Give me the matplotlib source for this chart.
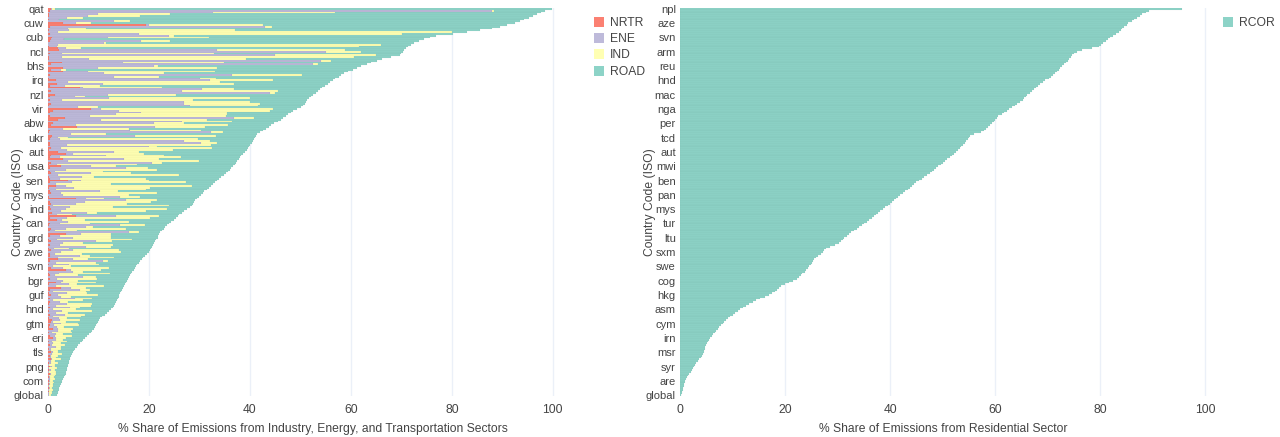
#!/usr/bin/env python3
"""plot.py --- sector shares of emissions per country (two horizontal bar panels)."""
import numpy as np
import matplotlib

matplotlib.use("Agg")
import matplotlib.pyplot as plt
from matplotlib.lines import Line2D

plt.rcParams["font.family"] = ["Liberation Sans", "DejaVu Sans"]

# --- left panel: stacked shares, one row per country, sorted by total ---
left_ticklabels = ["qat", "cuw", "cub", "ncl", "bhs", "irq", "nzl", "vir", "abw", "ukr",
                   "aut", "usa", "sen", "mys", "ind", "can", "grd", "zwe", "svn", "bgr",
                   "guf", "hnd", "gtm", "eri", "tls", "png", "com", "global"]

nrtr = [0.6, 0.3, 0, 0.2, 0.1, 0, 0.2, 0,
        3.0, 19.5, 0.3, 0, 0.2, 0, 0.3, 0,
        0.8, 0.5, 0.4, 0, 0, 0.2, 2.0, 2.2,
        0, 0.3, 0, 0.2, 0.2, 0, 2.8, 0.5,
        0, 3.0, 0.6, 3.0, 0, 0.4, 0, 0.2,
        1.5, 0, 1.8, 0.4, 6.3, 0, 0.5, 0,
        1.4, 0.3, 0, 0.3, 0, 0.5, 0.2, 0,
        8.5, 1.0, 0.4, 0, 0.3, 3.4, 2.0, 0,
        1.0, 0.6, 5.7, 0, 0.3, 0.2, 0, 0.8,
        0.5, 0.3, 0, 0.4, 0.3, 0, 0.5, 0.2,
        2.0, 3.5, 0.5, 0.3, 3.0, 0, 0.6, 0.2,
        2.5, 0.4, 0, 0.3, 0.5, 0, 0.2, 0.4,
        4.0, 0.3, 0, 1.5, 0.2, 0, 0.3, 0.5,
        0, 0.2, 5.5, 0, 0.4, 0.6, 0, 0.3,
        0.5, 0, 0.8, 0.2, 5.5, 0.3, 1.8, 0,
        0.4, 0.2, 0, 0.5, 0.3, 0, 3.5, 0.4,
        0, 0.2, 0.6, 0, 0.3, 0, 0.2, 0.5,
        0, 0.3, 0.4, 0, 2.0, 0.3, 0, 0.2,
        0, 0.5, 3.5, 0, 0.2, 0.4, 0, 0.3,
        0, 1.5, 0.2, 0, 2.5, 0.3, 0, 0.2,
        0.5, 0, 0.3, 0, 0.4, 0.2, 0, 0.3,
        0, 0.2, 0, 0.4, 0, 0.2, 0.8, 0.5,
        0, 0.3, 0.2, 0.9, 0, 0.2, 0, 0.3,
        1.0, 0, 0.2, 0, 0.3, 0, 0.2, 0,
        0.6, 0, 0.3, 0, 0.5, 0, 0.2, 0,
        0.3, 0, 0.2, 0, 0.3, 0, 0.2, 0,
        0.1, 0, 0.1, 0, 0.1, 0, 0.1, 0,
        0]

ene = [0.2, 87.6, 32.7, 9.7, 7.9, 3.7, 2.0, 13.0,
       2.5, 0.5, 42.7, 4.0, 4.0, 2.0, 17.8, 24.0,
       11.0, 2.7, 18.0, 11.0, 2.0, 1.5, 1.5, 31.3,
       55.0, 2.5, 45.0, 2.5, 8.0, 54.0, 12.0, 52.0,
       21.0, 7.0, 2.0, 5.0, 11.0, 36.0, 13.0, 30.0,
       30.5, 4.0, 9.0, 3.0, 0.7, 30.5, 26.0, 44.0,
       10.5, 5.0, 12.0, 2.5, 27.0, 26.5, 28.0, 6.0,
       2.0, 13.0, 18.0, 13.5, 8.0, 33.5, 8.5, 26.5,
       20.0, 5.0, 15.5, 3.0, 16.0, 32.0, 4.5, 16.5,
       1.5, 2.0, 27.0, 30.0, 3.5, 20.0, 2.0, 3.5,
       11.0, 1.5, 11.0, 2.0, 12.0, 4.0, 20.0, 1.5,
       6.0, 15.0, 3.5, 1.0, 8.0, 2.0, 6.5, 2.0,
       2.5, 4.5, 1.5, 2.0, 5.0, 1.5, 10.0, 2.0,
       3.0, 14.0, 2.0, 15.5, 7.0, 5.0, 1.0, 4.0,
       3.0, 2.5, 7.0, 1.5, 8.0, 3.5, 1.0, 4.0,
       2.0, 14.0, 7.5, 3.0, 1.0, 16.0, 3.0, 2.0,
       5.0, 1.5, 9.0, 3.0, 2.0, 7.5, 1.0, 4.5,
       2.5, 1.0, 6.0, 2.0, 3.0, 10.5, 1.5, 4.0,
       1.0, 2.5, 1.0, 5.0, 2.0, 1.0, 7.0, 1.5,
       3.0, 1.0, 4.0, 1.5, 2.0, 6.0, 1.0, 3.5,
       1.5, 2.5, 5.0, 1.0, 2.0, 3.5, 1.5, 4.0,
       1.0, 2.5, 1.5, 3.0, 1.0, 2.0, 1.5, 0.5,
       2.5, 0.8, 1.5, 1.0, 2.0, 0.5, 1.5, 1.0,
       0.5, 1.5, 0.5, 1.0, 0.5, 1.5, 0.3, 0.5,
       0.3, 0.8, 0.2, 0.5, 0.2, 0.6, 0.3, 0.2,
       0.5, 0.2, 0.4, 0.1, 0.3, 0.2, 0.1, 0.3,
       0.2, 0.1, 0.3, 0.1, 0.2, 0.1, 0.1, 0.2,
       0.2]

ind = [0.5, 0.4, 24.1, 14.3, 10.2, 3.3, 0, 3.2,
       3.0, 22.5, 1.3, 3.5, 32.8, 78.0, 52.0, 1.0,
       20.0, 0, 5.8, 0.5, 64.0, 60.0, 3.0, 25.3,
       7.0, 30.0, 20.0, 58.0, 31.0, 2.0, 20.0, 1.0,
       0.8, 23.5, 1.0, 25.0, 12.0, 14.0, 9.0, 3.0,
       12.5, 30.0, 26.0, 7.0, 15.5, 6.3, 19.0, 1.0,
       13.5, 2.0, 28.0, 26.0, 13.0, 15.0, 13.5, 4.0,
       34.0, 30.0, 17.0, 22.0, 27.0, 4.0, 21.0, 10.0,
       6.0, 30.0, 10.0, 13.0, 14.0, 2.5, 7.0, 16.0,
       2.0, 27.5, 5.0, 3.0, 28.5, 1.5, 30.0, 21.0,
       5.0, 14.0, 11.5, 24.0, 7.0, 26.0, 2.0, 16.0,
       5.0, 4.5, 18.0, 9.5, 8.0, 24.0, 2.5, 17.0,
       13.5, 22.5, 11.0, 25.0, 15.0, 18.0, 3.5, 19.0,
       13.0, 4.0, 3.5, 6.0, 13.0, 10.0, 23.0, 8.5,
       20.0, 17.0, 2.0, 3.0, 8.5, 16.5, 4.5, 12.0,
       6.0, 5.0, 1.5, 12.0, 4.5, 2.0, 6.0, 10.0,
       7.5, 15.0, 3.0, 4.0, 10.5, 5.0, 3.0, 9.0,
       12.0, 5.5, 2.0, 11.0, 3.0, 1.0, 8.0, 6.0,
       3.5, 9.0, 6.0, 2.0, 10.0, 4.5, 2.5, 8.0,
       3.0, 7.0, 1.5, 9.5, 3.0, 2.0, 6.5, 4.0,
       8.0, 2.0, 3.5, 6.0, 1.5, 5.0, 7.0, 2.0,
       4.5, 6.0, 2.5, 4.0, 5.5, 1.5, 4.0, 2.5,
       3.5, 5.0, 1.5, 3.0, 2.5, 4.0, 1.5, 3.5,
       2.0, 1.5, 3.0, 1.5, 2.5, 1.0, 2.0, 1.5,
       1.0, 2.0, 1.5, 1.0, 1.8, 0.8, 1.5, 1.2,
       0.6, 1.6, 0.8, 1.5, 0.9, 1.2, 0.8, 1.0,
       0.7, 1.1, 0.6, 0.9, 0.5, 0.8, 0.6, 0.5,
       0.4]

road = [98.5, 10.2, 40.8, 72.6, 77.8, 88.2, 92.1, 77.3,
        84.1, 48.5, 45.3, 80.4, 48.5, 3.0, 10.1, 51.8,
        43.8, 71.3, 49.2, 61.1, 6.0, 9.7, 64.5, 11.8,
        8.3, 37.2, 4.7, 7.3, 27.0, 9.1, 29.2, 9.6,
        40.2, 27.7, 56.8, 26.5, 35.7, 7.7, 35.6, 23.7,
        11.9, 21.9, 18.6, 44.4, 31.8, 17.0, 7.9, 8.0,
        27.1, 44.8, 11.7, 22.5, 11.1, 8.9, 8.9, 40.2,
        4.8, 4.6, 12.8, 12.1, 11.8, 5.7, 14.6, 9.0,
        17.8, 8.6, 12.5, 27.1, 12.2, 7.2, 30.0, 7.9,
        37.0, 11.0, 8.6, 7.0, 7.8, 18.4, 7.1, 14.7,
        21.0, 19.7, 15.3, 11.7, 15.8, 7.5, 14.7, 19.3,
        23.2, 16.4, 14.5, 24.8, 18.7, 8.8, 25.1, 14.4,
        13.5, 5.8, 20.2, 3.8, 11.7, 11.9, 17.2, 9.2,
        14.4, 11.8, 18.5, 7.7, 8.5, 13.1, 4.5, 15.3,
        4.0, 7.5, 16.8, 21.3, 3.7, 5.1, 17.6, 8.4,
        15.6, 4.4, 14.2, 7.4, 16.7, 4.2, 9.5, 9.4,
        9.2, 4.7, 8.6, 14.0, 8.0, 8.1, 16.2, 6.2,
        5.5, 12.9, 10.9, 5.9, 10.6, 6.5, 8.5, 7.5,
        12.9, 5.2, 6.5, 9.7, 4.3, 10.4, 6.6, 6.1,
        9.7, 6.0, 9.6, 4.1, 7.4, 6.3, 6.9, 6.6,
        4.1, 9.5, 5.0, 6.6, 9.5, 4.6, 4.6, 6.6,
        7.0, 3.4, 7.7, 3.8, 4.2, 6.6, 3.8, 6.4,
        3.7, 3.4, 6.1, 4.2, 4.3, 3.8, 5.1, 2.9,
        3.9, 4.0, 3.0, 3.9, 2.7, 3.2, 2.9, 3.2,
        3.0, 1.9, 2.5, 2.9, 1.8, 2.8, 2.1, 2.6,
        2.5, 2.0, 2.3, 2.0, 2.0, 1.9, 2.0, 1.6,
        1.8, 1.5, 1.6, 1.4, 1.4, 1.2, 1.2, 1.2,
        1.2]

# --- right panel: residential share, sorted ---
right_ticklabels = ["npl", "aze", "svn", "arm", "reu", "hnd", "mac", "nga", "per", "tcd",
                    "aut", "mwi", "ben", "pan", "mys", "tur", "ltu", "sxm", "swe", "cog",
                    "hkg", "asm", "cym", "irn", "msr", "syr", "are", "global"]

rcor = [95.5, 89.2, 88.6, 88.0, 87.5, 87.0, 86.5, 86.0,
        85.3, 85.0, 84.6, 84.2, 84.0, 83.5, 82.9, 82.4,
        81.9, 81.4, 81.0, 80.6, 80.2, 79.8, 78.5, 76.5,
        75.5, 75.0, 74.7, 74.4, 74.1, 73.8, 73.5, 73.1,
        72.7, 72.4, 72.1, 71.8, 71.4, 71.0, 70.6, 70.2,
        69.5, 69.0, 68.6, 68.2, 67.8, 67.4, 67.0, 66.6,
        66.1, 65.8, 65.5, 65.2, 64.7, 64.2, 63.7, 63.2,
        62.7, 62.2, 61.7, 61.2, 60.6, 60.3, 60.0, 59.7,
        59.4, 59.0, 58.6, 58.2, 57.8, 57.2, 56.0, 55.2,
        55.0, 54.8, 54.5, 54.2, 53.8, 53.5, 53.2, 52.9,
        52.5, 52.1, 51.7, 51.3, 50.9, 50.4, 50.0, 49.6,
        49.2, 48.8, 48.3, 47.9, 47.5, 47.0, 46.5, 46.0,
        45.5, 45.0, 44.6, 44.2, 43.8, 43.4, 42.9, 42.4,
        41.9, 41.5, 41.1, 40.7, 40.3, 39.9, 39.5, 39.1,
        38.6, 38.1, 37.7, 37.3, 36.9, 36.5, 36.0, 35.5,
        35.0, 34.6, 34.1, 33.6, 33.1, 32.6, 32.1, 31.7,
        31.3, 31.0, 30.7, 30.3, 29.5, 28.5, 27.8, 27.4,
        27.2, 26.8, 26.3, 25.9, 25.5, 25.3, 25.1, 24.9,
        24.6, 24.3, 24.0, 23.7, 23.3, 23.0, 22.6, 22.2,
        21.5, 20.8, 20.0, 19.3, 18.8, 18.4, 18.0, 17.6,
        17.0, 16.2, 15.3, 14.5, 13.8, 13.2, 12.6, 12.0,
        11.5, 11.0, 10.5, 10.0, 9.6, 9.2, 8.8, 8.4,
        8.1, 7.8, 7.5, 7.2, 6.9, 6.6, 6.3, 6.0,
        5.8, 5.6, 5.4, 5.2, 5.0, 4.8, 4.7, 4.6,
        4.5, 4.4, 4.2, 4.0, 3.7, 3.4, 3.1, 2.8,
        2.6, 2.4, 2.2, 2.0, 1.8, 1.6, 1.4, 1.2,
        1.0, 0.9, 0.8, 0.7, 0.6, 0.5, 0.4, 0.3,
        0.2]

COLORS = {"NRTR": "#fb8072", "ENE": "#bebada", "IND": "#ffffb3",
          "ROAD": "#8dd3c7", "RCOR": "#8dd3c7"}
TXT = "#444444"
GRID = "#ebf0f8"
EDGE = (0.0, 0.0, 0.0, 0.06)
FS = 8.7
TICK_FS = 8.0
TICK_STEP = 8


def style_axis(ax, n, ticklabels, xmax, xlabel):
    ax.set_ylim(n - 0.5, -0.5)
    ax.set_xlim(0, xmax)
    ax.set_xticks([0, 20, 40, 60, 80, 100])
    ax.set_yticks(np.arange(0, n, TICK_STEP))
    ax.set_yticklabels(ticklabels)
    ax.tick_params(axis="both", length=0, labelsize=TICK_FS, labelcolor=TXT)
    ax.tick_params(axis="x", labelsize=FS, pad=6)
    ax.tick_params(axis="y", pad=3)
    ax.grid(axis="x", color=GRID, lw=1)
    ax.set_axisbelow(True)
    for s in ax.spines.values():
        s.set_visible(False)
    ax.set_xlabel(xlabel, fontsize=FS, color=TXT, labelpad=5)
    ax.set_ylabel("Country Code (ISO)", fontsize=FS, color=TXT)


fig = plt.figure(figsize=(12.8, 4.37), dpi=100)
ax1 = fig.add_axes([0.0375, 0.0938, 0.4133, 0.888])
ax2 = fig.add_axes([0.53125, 0.0938, 0.4117, 0.888])

# left: stacked
y = np.arange(len(road))
base = np.zeros(len(road))
for name, vals in [("NRTR", nrtr), ("ENE", ene), ("IND", ind), ("ROAD", road)]:
    vals = np.asarray(vals, dtype=float)
    ax1.barh(y, vals, left=base, height=1.0, color=COLORS[name],
             edgecolor=EDGE, linewidth=0.3)
    base += vals
style_axis(ax1, len(road), left_ticklabels, 104.8,
           "% Share of Emissions from Industry, Energy, and Transportation Sectors")
ax1.yaxis.set_label_coords(-0.045, 0.5)

# right: single series
y2 = np.arange(len(rcor))
ax2.barh(y2, rcor, height=1.0, color=COLORS["RCOR"], edgecolor=EDGE, linewidth=0.3)
style_axis(ax2, len(rcor), right_ticklabels, 100.3,
           "% Share of Emissions from Residential Sector")
ax2.yaxis.set_label_coords(-0.045, 0.5)


def legend_handles(names):
    return [Line2D([], [], marker="s", ls="", markersize=6.5,
                   markerfacecolor=COLORS[k], markeredgewidth=0, label=k)
            for k in names]


leg_kw = dict(loc="upper left", frameon=False, fontsize=FS, labelcolor=TXT,
              handlelength=0.9, handletextpad=0.45, labelspacing=0.35, borderpad=0)
fig.legend(handles=legend_handles(["NRTR", "ENE", "IND", "ROAD"]),
           bbox_to_anchor=(588 / 1280, 1 - 11 / 437), **leg_kw)
fig.legend(handles=legend_handles(["RCOR"]),
           bbox_to_anchor=(1217 / 1280, 1 - 11 / 437), **leg_kw)

fig.savefig("out.png", dpi=100)
plt.close(fig)
